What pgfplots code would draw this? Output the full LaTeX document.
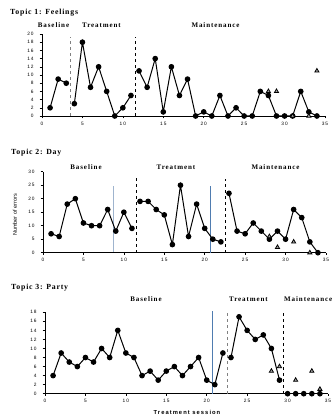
\documentclass[border=0pt]{standalone}
\usepackage{fontspec}
\setmainfont{Liberation Serif}
\newfontfamily\tickfam[LetterSpace=20]{Liberation Sans}
\newfontfamily\titlefam[LetterSpace=10]{Liberation Serif}
\newfontfamily\phasefam[LetterSpace=13]{Liberation Serif}
\newfontfamily\labfam[LetterSpace=18]{Liberation Sans}
\newfontfamily\ylabfam{Liberation Sans}
\usepackage{pgfplots}
\pgfplotsset{compat=1.18}
\definecolor{lightblue}{HTML}{9FB4CE}
\definecolor{midblue}{HTML}{4F7CB0}
\pgfplotsset{
  panel/.style={
    scale only axis, width=283pt, xmin=0, xmax=35,
    axis lines=left, axis line style={-, line width=0.6pt},
    tick align=outside, tick pos=left, major tick length=2.3pt,
    tick style={line width=0.5pt, black},
    xtick={0,5,...,35},
    tick label style={font=\tickfam\fontsize{4.8}{5}\selectfont},
    yticklabel style={xshift=-2.5pt},
    /pgf/number format/assume math mode=true,
    clip=false,
  },
  ser/.style={black, line width=1pt, mark=*, mark size=2.3pt, mark options={solid, fill=black}},
  tri/.style={only marks, mark=triangle*, mark size=2.4pt, mark options={draw=black, fill=gray!70, line width=0.8pt}},
}
\begin{document}
\begin{tikzpicture}
\useasboundingbox (0pt,0pt) rectangle (332pt,417pt);
\clip (0pt,0pt) rectangle (332pt,417pt);
% ---------- titles and phase labels ----------
\node[anchor=west, inner sep=0pt] at (10pt,404pt) {\titlefam\bfseries\fontsize{7.8}{9}\selectfont Topic 1: Feelings};
\node[inner sep=0pt] at (53.5pt,392pt) {\phasefam\bfseries\fontsize{7}{8}\selectfont Baseline};
\node[inner sep=0pt] at (101.5pt,392pt) {\phasefam\bfseries\fontsize{7}{8}\selectfont Treatment};
\node[inner sep=0pt] at (215.5pt,392pt) {\phasefam\bfseries\fontsize{7}{8}\selectfont Maintenance};

\node[anchor=west, inner sep=0pt] at (11pt,264pt) {\titlefam\bfseries\fontsize{7.8}{9}\selectfont Topic 2: Day};
\node[inner sep=0pt] at (86pt,249.7pt) {\phasefam\bfseries\fontsize{7}{8}\selectfont Baseline};
\node[inner sep=0pt] at (176pt,249.7pt) {\phasefam\bfseries\fontsize{7}{8}\selectfont Treatment};
\node[inner sep=0pt] at (275.5pt,249.7pt) {\phasefam\bfseries\fontsize{7}{8}\selectfont Maintenance};
\node[rotate=90, inner sep=0pt] at (15pt,202pt) {\ylabfam\fontsize{5.5}{6}\selectfont Number of errors};

\node[anchor=west, inner sep=0pt] at (11pt,129.7pt) {\titlefam\bfseries\fontsize{7.8}{9}\selectfont Topic 3: Party};
\node[inner sep=0pt] at (146pt,117.7pt) {\phasefam\bfseries\fontsize{7}{8}\selectfont Baseline};
\node[inner sep=0pt] at (248.5pt,117.7pt) {\phasefam\bfseries\fontsize{7}{8}\selectfont Treatment};
\node[anchor=west, inner sep=0pt] at (284pt,117.7pt) {\phasefam\bfseries\fontsize{7}{8}\selectfont Maintenance};
\node[inner sep=0pt] at (187pt,4.5pt) {\labfam\bfseries\fontsize{5.8}{7}\selectfont Treatment session};

% ---------- Panel 1 ----------
\begin{axis}[panel, at={(42pt,301pt)}, anchor=south west, height=82pt,
  ymin=0, ymax=20, ytick={0,2,...,20}]
\draw[gray, dashed, line width=0.6pt] (axis cs:3.5,0) -- (axis cs:3.5,19.2);
\draw[black, dashed, line width=0.6pt] (axis cs:11.5,0) -- (axis cs:11.5,19.2);
\addplot[ser] coordinates {(1,2) (2,9) (3,8)};
\addplot[ser] coordinates {(4,3) (5,18) (6,7) (7,12) (8,6) (9,0) (10,2) (11,5)};
\addplot[ser] coordinates {(12,11) (13,7) (14,14) (15,1) (16,12) (17,5) (18,9) (19,0) (20,1) (21,0) (22,5) (23,0) (24,2) (25,0) (26,0) (27,6) (28,5) (29,0) (30,0) (31,0) (32,6) (33,1) (34,0)};
\addplot[tri] coordinates {(28,6) (29,6) (31,0) (33,0) (34,11)};
\end{axis}

% ---------- Panel 2 ----------
\begin{axis}[panel, at={(43pt,164.3pt)}, anchor=south west, height=81pt,
  ymin=0, ymax=30, ytick={0,5,...,30}]
\draw[lightblue, line width=1.3pt] (axis cs:8.7,0.3) -- (axis cs:8.7,24.8);
\draw[midblue, line width=0.6pt] (axis cs:20.7,0) -- (axis cs:20.7,24.7);
\draw[black, dashed, line width=0.6pt] (axis cs:11.5,0) -- (axis cs:11.5,27.8);
\draw[black, dashed, line width=0.6pt] (axis cs:22.5,0) -- (axis cs:22.5,27.2);
\addplot[ser] coordinates {(1,7) (2,6) (3,18) (4,20) (5,11) (6,10) (7,10) (8,16) (9,8) (10,15) (11,9)};
\addplot[ser] coordinates {(12,19) (13,19) (14,16) (15,14) (16,3) (17,25) (18,6) (19,18) (20,9) (21,5) (22,4)};
\addplot[ser] coordinates {(23,22) (24,8) (25,7) (26,11) (27,8) (28,5) (29,8) (30,5) (31,16) (32,13) (33,4) (34,0)};
\addplot[tri] coordinates {(28,6) (29,2) (31,4) (33,0)};
\end{axis}

% ---------- Panel 3 ----------
\begin{axis}[panel, at={(45pt,23.3pt)}, anchor=south west, height=81.4pt,
  ymin=0, ymax=18, ytick={0,2,...,18}]
\draw[midblue, line width=0.6pt] (axis cs:20.7,0) -- (axis cs:20.7,18.3);
\draw[gray, dashed, line width=0.6pt] (axis cs:22.5,0) -- (axis cs:22.5,17.9);
\draw[black, dashed, line width=0.6pt] (axis cs:29.5,0) -- (axis cs:29.5,17.9);
\addplot[ser] coordinates {(1,4) (2,9) (3,7) (4,6) (5,8) (6,7) (7,10) (8,8) (9,14) (10,9) (11,8) (12,4) (13,5) (14,3) (15,5) (16,6) (17,4) (18,6) (19,8) (20,3) (21,2) (22,9)};
\addplot[ser] coordinates {(23,8) (24,17) (25,14) (26,12) (27,13) (28,10) (29,3)};
\addplot[ser] coordinates {(30,0) (31,0) (32,0) (33,0) (34,0)};
\addplot[tri] coordinates {(28,5) (29,6) (31,3) (33,5) (34,1)};
\end{axis}
\end{tikzpicture}
\end{document}
